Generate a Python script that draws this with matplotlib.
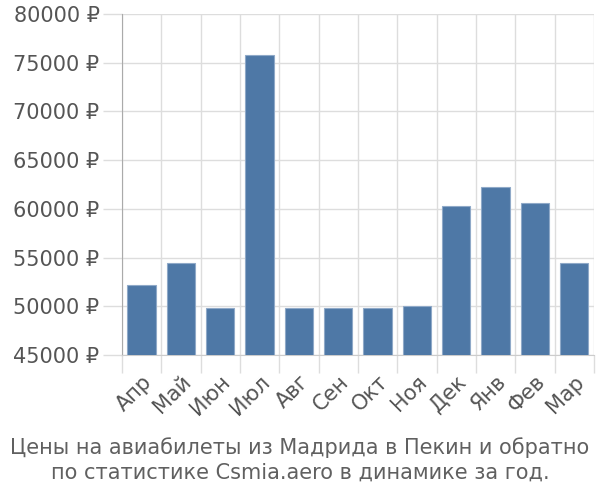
import numpy as np
import matplotlib.pyplot as plt

months = ["Апр", "Май", "Июн", "Июл", "Авг", "Сен", "Окт", "Ноя", "Дек", "Янв", "Фев", "Мар"]
prices = [52150, 54450, 49850, 75770, 49850, 49850, 49850, 50030, 60270, 62220, 60570, 54450]
y_ticks = [45000, 50000, 55000, 60000, 65000, 70000, 75000, 80000]

plt.rcParams['font.family'] = ['DejaVu Sans']

fig = plt.figure(figsize=(6, 5), dpi=100)
ax = fig.add_axes([0.203, 0.29, 0.787, 0.682])

x = np.arange(len(months))
ax.bar(x, prices, width=0.72, color="#4e78a6", edgecolor="#8fa9c8", linewidth=0.8, zorder=3)

ax.set_xlim(-0.5, len(months) - 0.5)
ax.set_ylim(45000, 80000)

ax.set_yticks(y_ticks)
ax.set_yticklabels([f"{v} ₽" for v in y_ticks], fontsize=15, color="#555555")
ax.tick_params(axis="y", length=14, color="#dddddd", width=1, pad=2)

ax.set_xticks(x)
ax.set_xticklabels(months, rotation=45, ha="right", rotation_mode="anchor",
                   fontsize=15, color="#555555")
ax.tick_params(axis="x", which="major", length=0, pad=12)
ax.set_xticks(np.arange(-0.5, len(months)), minor=True)
ax.tick_params(axis="x", which="minor", length=13, color="#dddddd", width=1)

ax.grid(axis="y", color="#dddddd", linewidth=1, zorder=0)
ax.grid(axis="x", which="minor", color="#dddddd", linewidth=1, zorder=0)

for side in ["top", "right"]:
    ax.spines[side].set_visible(False)
ax.spines["bottom"].set_color("#cccccc")
ax.spines["left"].set_color("#aaaaaa")

fig.text(0.5, 0.08, "Цены на авиабилеты из Мадрида в Пекин и обратно\nпо статистике Csmia.aero в динамике за год.",
         ha="center", va="center", fontsize=15, color="#606060", linespacing=1.3)

fig.savefig("out.png", dpi=100)
